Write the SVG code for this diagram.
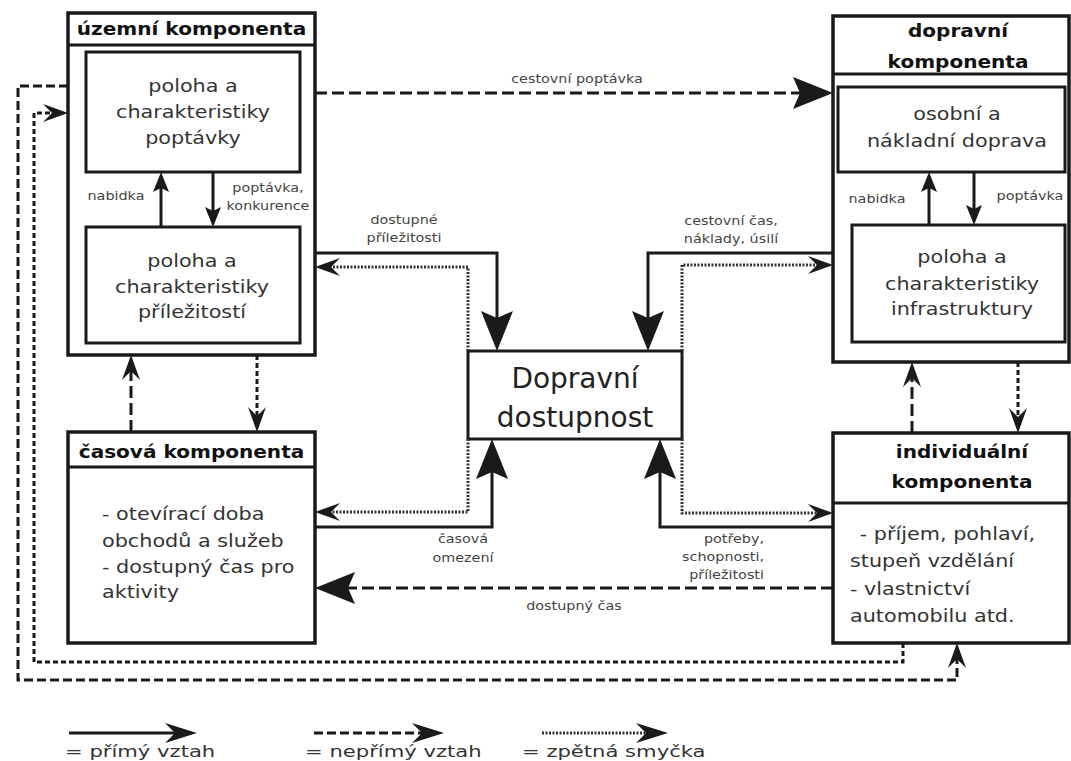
<svg xmlns="http://www.w3.org/2000/svg" width="1071" height="761" viewBox="0 0 1071 761">
<defs>
<style>
text{font-family:"DejaVu Sans","Verdana",sans-serif}
.box{fill:#fff;stroke:#1a1a1a;stroke-width:3}
.outer{fill:#fff;stroke:#1a1a1a;stroke-width:3.5}
.sep{stroke:#1a1a1a;stroke-width:3}
.hdr{fill:#111;font-size:17px;font-weight:bold;text-anchor:middle}
.body{fill:#333;font-size:17px}
.mid{text-anchor:middle}
.big{fill:#222;font-size:28px;text-anchor:middle}
.lbl{fill:#444;font-size:11.5px;text-anchor:middle}
.lgt{fill:#333;font-size:16px}
.solid{fill:none;stroke:#1a1a1a;stroke-width:3}
.dash{fill:none;stroke:#1a1a1a;stroke-width:3;stroke-dasharray:12 5}
.dashm{fill:none;stroke:#1a1a1a;stroke-width:3;stroke-dasharray:9 4}
.dashs{fill:none;stroke:#1a1a1a;stroke-width:3;stroke-dasharray:5 3}
.dot{fill:none;stroke:#333;stroke-width:3;stroke-dasharray:2 1.5}
.head{fill:#1a1a1a;stroke:none}
</style>
<marker id="mBig" markerUnits="userSpaceOnUse" orient="auto" overflow="visible" markerWidth="1" markerHeight="1"><path class="head" d="M10,0 L-30,-16 L-23,0 L-30,16 Z"/></marker>
<marker id="mMed" markerUnits="userSpaceOnUse" orient="auto" overflow="visible" markerWidth="1" markerHeight="1"><path class="head" d="M8,0 L-12,-8 L-8,0 L-12,8 Z"/></marker>
<marker id="mChev" markerUnits="userSpaceOnUse" orient="auto" overflow="visible" markerWidth="1" markerHeight="1"><path class="head" d="M8,0 L-17,-9 L-8,0 L-17,9 Z"/></marker>
<marker id="mLeg" markerUnits="userSpaceOnUse" orient="auto" overflow="visible" markerWidth="1" markerHeight="1"><path class="head" d="M8,0 L-24,-10 L-14,0 L-24,10 Z"/></marker>
</defs>
<rect width="1071" height="761" fill="#fff"/>

<g id="uzemni">
<rect class="outer" x="68" y="13" width="247" height="342"/>
<line class="sep" x1="68" y1="45" x2="315" y2="45"/>
<text class="hdr" transform="translate(191.5,35) scale(1.18,1)">územní komponenta</text>
</g>
<g id="poptavka">
<rect class="box" x="86" y="52" width="214" height="120"/>
<text class="body mid" transform="translate(193,92) scale(1.22,1)"><tspan x="0">poloha a</tspan><tspan x="0" dy="26">charakteristiky</tspan><tspan x="0" dy="26">poptávky</tspan></text>
</g>
<g id="prilezitosti">
<rect class="box" x="86" y="227" width="214" height="116"/>
<text class="body mid" transform="translate(192,267) scale(1.22,1)"><tspan x="0">poloha a</tspan><tspan x="0" dy="26">charakteristiky</tspan><tspan x="0" dy="25">příležitostí</tspan></text>
</g>

<g id="casova">
<rect class="outer" x="68" y="432" width="247" height="211"/>
<line class="sep" x1="68" y1="467" x2="315" y2="467"/>
<text class="hdr" transform="translate(191.5,458) scale(1.18,1)">časová komponenta</text>
<text class="body" transform="translate(102,520) scale(1.22,1)"><tspan x="0">- otevírací doba</tspan><tspan x="0" dy="27">obchodů a služeb</tspan><tspan x="0" dy="26">- dostupný čas pro</tspan><tspan x="0" dy="25">aktivity</tspan></text>
</g>

<g id="dostupnost">
<rect class="box" x="468" y="351" width="214" height="88"/>
<text class="big" x="575" y="388">Dopravní</text>
<text class="big" x="575" y="427">dostupnost</text>
</g>

<g id="dopravni">
<rect class="outer" x="833" y="16" width="236" height="346"/>
<line class="sep" x1="833" y1="74" x2="1069" y2="74"/>
<text class="hdr" transform="translate(958,37) scale(1.18,1)"><tspan x="0">dopravní</tspan><tspan x="0" dy="31">komponenta</tspan></text>
</g>
<g id="doprava">
<rect class="box" x="838" y="87" width="227" height="85"/>
<text class="body mid" transform="translate(957,120) scale(1.22,1)"><tspan x="0">osobní a</tspan><tspan x="0" dy="27">nákladní doprava</tspan></text>
</g>
<g id="infrastruktura">
<rect class="box" x="852" y="225" width="213" height="117"/>
<text class="body mid" transform="translate(962,263) scale(1.22,1)"><tspan x="0">poloha a</tspan><tspan x="0" dy="27">charakteristiky</tspan><tspan x="0" dy="25">infrastruktury</tspan></text>
</g>

<g id="individualni">
<rect class="outer" x="833" y="433" width="236" height="210"/>
<line class="sep" x1="833" y1="503" x2="1069" y2="503"/>
<text class="hdr" transform="translate(962,458) scale(1.18,1)"><tspan x="0">individuální</tspan><tspan x="0" dy="30">komponenta</tspan></text>
<text class="body" transform="translate(850,540) scale(1.22,1)"><tspan x="8">- příjem, pohlaví,</tspan><tspan x="0" dy="27">stupeň vzdělání</tspan><tspan x="0" dy="28">- vlastnictví</tspan><tspan x="0" dy="27">automobilu atd.</tspan></text>
</g>

<g id="connectors">
<path class="solid" d="M315,253 H497 V341" marker-end="url(#mBig)"/>
<path class="solid" d="M833,253 H648 V341" marker-end="url(#mBig)"/>
<path class="solid" d="M315,527 H492 V449" marker-end="url(#mBig)"/>
<path class="solid" d="M833,527 H660 V449" marker-end="url(#mBig)"/>
<path class="dash" d="M315,93 H823" marker-end="url(#mBig)"/>
<path class="dash" d="M833,588 H325" marker-end="url(#mBig)"/>
<path class="dot" d="M468,351 V267 H323" marker-end="url(#mChev)"/>
<path class="dot" d="M682,351 V265 H825" marker-end="url(#mChev)"/>
<path class="dot" d="M468,439 V512 H323" marker-end="url(#mChev)"/>
<path class="dot" d="M682,439 V513 H825" marker-end="url(#mChev)"/>
<path class="dashm" d="M68,86 H18 V680 H957 V651" marker-end="url(#mChev)"/>
<path class="dashs" d="M903,643 V662 H34 V113 H60" marker-end="url(#mChev)"/>
<path class="dash" d="M131,432 V363" marker-end="url(#mChev)"/>
<path class="dashs" d="M257,355 V424" marker-end="url(#mChev)"/>
<path class="dash" d="M912,433 V370" marker-end="url(#mChev)"/>
<path class="dashs" d="M1018,362 V425" marker-end="url(#mChev)"/>
<path class="solid" d="M161,227 V180" marker-end="url(#mMed)"/>
<path class="solid" d="M213,172 V219" marker-end="url(#mMed)"/>
<path class="solid" d="M929,225 V180" marker-end="url(#mMed)"/>
<path class="solid" d="M974,172 V217" marker-end="url(#mMed)"/>
<text class="lbl" transform="translate(577,83) scale(1.25,1)">cestovní poptávka</text>
<text class="lbl" transform="translate(116,200) scale(1.25,1)">nabidka</text>
<text class="lbl" transform="translate(268,192) scale(1.25,1)"><tspan x="0">poptávka,</tspan><tspan x="0" dy="18">konkurence</tspan></text>
<text class="lbl" transform="translate(877,203) scale(1.25,1)">nabidka</text>
<text class="lbl" transform="translate(1030,200) scale(1.25,1)">poptávka</text>
<text class="lbl" transform="translate(404,224) scale(1.25,1)"><tspan x="0">dostupné</tspan><tspan x="0" dy="18">příležitosti</tspan></text>
<text class="lbl" transform="translate(731,225) scale(1.25,1)"><tspan x="0">cestovní čas,</tspan><tspan x="0" dy="18">náklady, úsilí</tspan></text>
<text class="lbl" transform="translate(463,543) scale(1.25,1)"><tspan x="0">časová</tspan><tspan x="0" dy="19">omezení</tspan></text>
<text class="lbl" transform="translate(764,543) scale(1.25,1)" style="text-anchor:end"><tspan x="0">potřeby,</tspan><tspan x="0" dy="18">schopnosti,</tspan><tspan x="0" dy="18">příležitosti</tspan></text>
<text class="lbl" transform="translate(574,610) scale(1.25,1)">dostupný čas</text>
</g>

<g id="legend">
<path class="solid" d="M69,733 H189" marker-end="url(#mLeg)"/>
<path class="dash" d="M314,733 H436" style="stroke-dasharray:9 4" marker-end="url(#mLeg)"/>
<path class="dot" d="M542,733 H660" marker-end="url(#mLeg)"/>
<text class="lgt" transform="translate(65,757) scale(1.32,1)">= přímý vztah</text>
<text class="lgt" transform="translate(305,757) scale(1.32,1)">= nepřímý vztah</text>
<text class="lgt" transform="translate(522,757) scale(1.32,1)">= zpětná smyčka</text>
</g>
</svg>
